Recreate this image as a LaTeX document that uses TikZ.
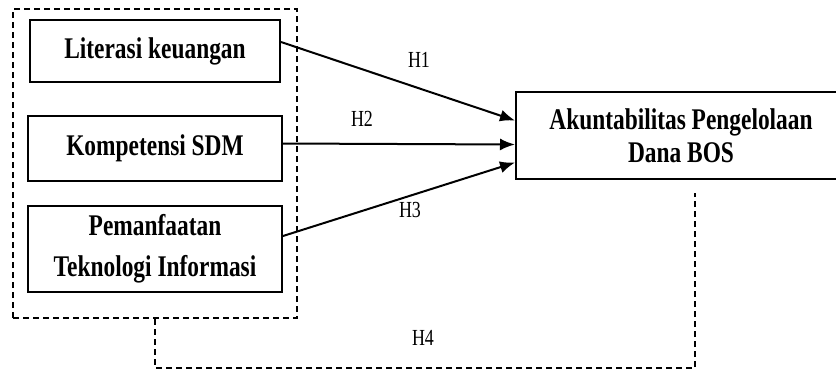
\documentclass[tikz,border=0pt]{standalone}
\usepackage{fontspec}
\setmainfont{Liberation Serif}[FakeStretch=0.78]
\usepackage{tikz}
\usetikzlibrary{arrows.meta}
\usetikzlibrary{positioning}
\tikzset{%
  >={Latex[width=6pt,length=7.5pt]},
  % Specifications for style of nodes:
  varbox/.style = {rectangle, draw=black, line width=1pt,
    minimum width=127pt,
    minimum height=32.5pt,
    text centered, font=\bfseries\fontsize{15}{20.5}\selectfont},
  groupbox/.style = {rectangle, draw=black, line width=1pt,
    dash pattern=on 3pt off 2pt,
    minimum width=142pt, minimum height=154.5pt},
  hyp/.style = {font=\fontsize{11.5}{13}\selectfont, inner sep=1pt},
  grpline/.style = {line width=1pt, dash pattern=on 3pt off 2pt},
}

\begin{document}
\begin{tikzpicture}[x=0.5pt, y=-0.5pt, line width=1pt, align=center]
        \useasboundingbox (0,0) rectangle (836,371);
        \clip (0,0) rectangle (836,371);
        % Specification of nodes (position, etc.)
        \node(Grp)[groupbox] at (155,163.5) {};
        \node(Lit)[varbox, minimum width=125pt, minimum height=31pt] at (155,51) {Literasi keuangan};
        \node(Komp)[varbox, below=16pt of Lit]{Kompetensi SDM};
        \node(TI)[varbox, below=11.5pt of Komp, minimum height=43pt]{Pemanfaatan \\ Teknologi Informasi};
        \node(Akun)[varbox, minimum width=165pt, minimum height=43.5pt,
          font=\bfseries\fontsize{15}{16.5}\selectfont] at (681,135.5){Akuntabilitas Pengelolaan \\ Dana BOS};
        \coordinate(H4end) at (695,193);
        \draw[->]([yshift=4.5pt]Lit.east) -- ([yshift=7.5pt]Akun.west);
        \draw[->]([yshift=2.5pt]Komp.east) -- ([yshift=-4.5pt]Akun.west);
        \draw[->]([yshift=6.5pt]TI.east) -- ([yshift=-13.5pt]Akun.west);
        \draw[grpline](Grp.south) -- ++(0,49) -| (H4end);
        \node[hyp] at (419,60) {H1};
        \node[hyp] at (362,119) {H2};
        \node[hyp] at (410,210) {H3};
        \node[hyp] at (423,338) {H4};
    \end{tikzpicture}
\end{document}
